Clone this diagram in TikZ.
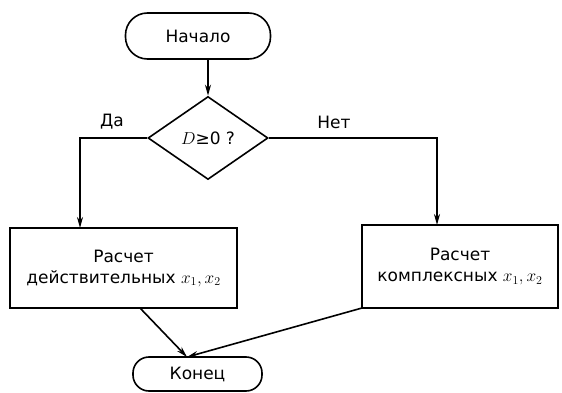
\documentclass[tikz,border=0pt]{standalone}
\usepackage{fontspec}
\setmainfont{DejaVu Sans}
\usetikzlibrary{shapes.geometric,arrows.meta}
\begin{document}
\begin{tikzpicture}[x=1pt,y=-1pt,
  every node/.style={font=\fontsize{17}{21}\selectfont},
  term/.style={draw,line width=1.6pt,minimum height=34pt,inner sep=0pt},
  proc/.style={draw,line width=1.6pt,inner sep=0pt,align=center},
  decis/.style={draw,line width=1.6pt,diamond,minimum width=120pt,minimum height=83pt,inner sep=0pt},
  conn/.style={line width=1.6pt},
  arr/.style={conn,-{Stealth[length=11pt,width=6pt]}},
  lbl/.style={inner sep=0pt}]
\useasboundingbox (0,0) rectangle (562,393);
\node[term,minimum width=145pt,minimum height=46pt,rounded corners=22pt] (start) at (198,36) {Начало};
\node[decis] (dec) at (208,138) {$D$≥0 ?};
\node[proc,minimum width=227pt,minimum height=80pt] (left) at (123.5,268) {Расчет\\действительных $x_1, x_2$};
\node[proc,minimum width=196pt,minimum height=83pt] (right) at (460,266.5) {Расчет\\комплексных $x_1, x_2$};
\node[term,minimum width=129pt,minimum height=34pt,rounded corners=16pt] (end) at (197.5,374) {Конец};
\coordinate (sa) at (208,59);
\coordinate (ly) at (80,138);
\coordinate (ry) at (437,138);
\coordinate (lb) at (80,228);
\coordinate (rb) at (437,225);
\coordinate (lo) at (140,308);
\coordinate (ro) at (362,308);
\coordinate (ein) at (187,357);
\draw[arr] (sa) -- (dec.north);
\draw[arr] (dec.west) -- (ly) -- (lb);
\draw[arr] (dec.east) -- (ry) -- (rb);
\draw[arr] (lo) -- (ein);
\draw[arr] (ro) -- (ein);
\node[lbl] (da) at (112,122) {Да};
\node[lbl] (net) at (334,122) {Нет};
\end{tikzpicture}
\end{document}
